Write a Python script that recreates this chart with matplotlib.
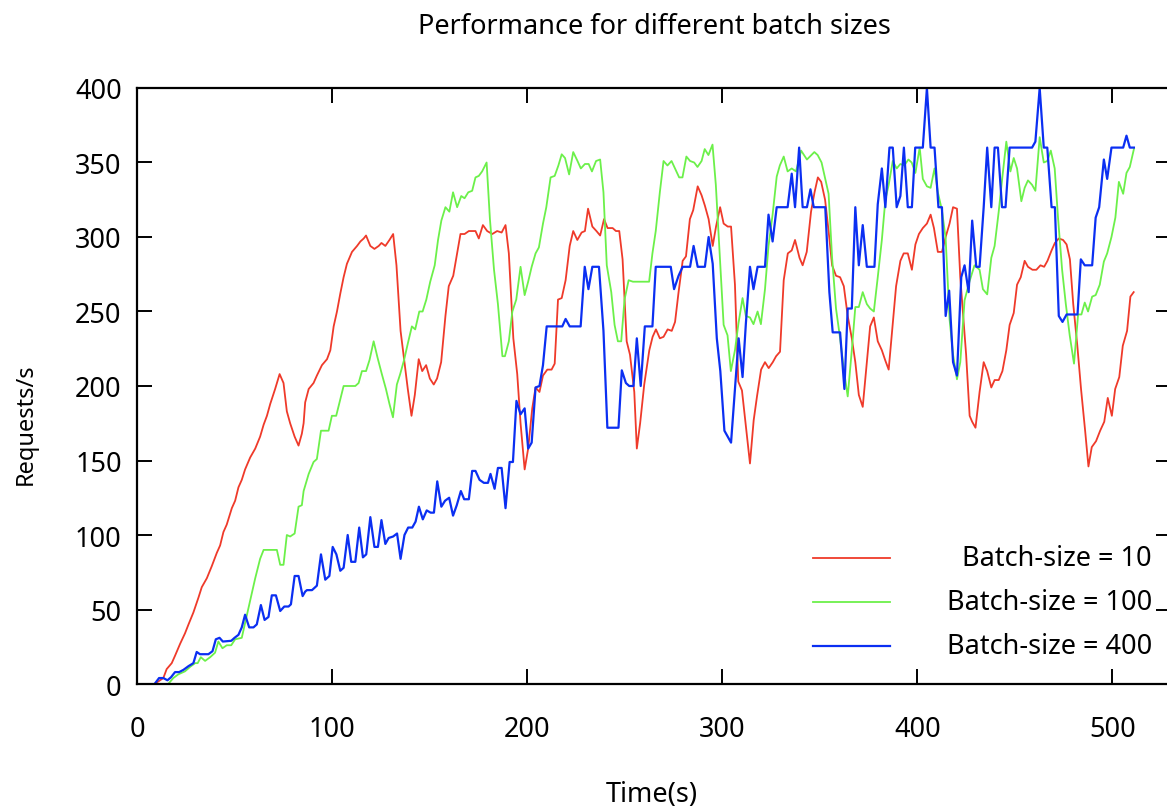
"""
request rate over time for three batch sizes
"""

import matplotlib
matplotlib.use("Agg")
import matplotlib.pyplot as plt

# sample times (s) and measured requests/s per batch size
t_bs10 = [9, 13.5, 15.2, 17.8, 19.5, 22.1, 24.6, 26.4, 28.9, 31.5, 33.2, 35.8, 38.3, 40.9, 42.6,
          44.3, 46, 48.6, 50.3, 52, 53.7, 55.4, 58, 60.6, 63.1, 64.9, 66.6, 68.3, 70.8, 73.1,
          75.1, 76.8, 78.5, 80.8, 82.8, 84.5, 85.4, 86.2, 88, 90.5, 92.2, 94.8, 97.4, 99.1,
          100.8, 102.5, 104.2, 105.9, 107.6, 110.2, 112.8, 114.5, 116.2, 117.4, 119.6, 121.7,
          123.9, 125.3, 127.3, 129.4, 131.3, 133, 135.1, 137.1, 138.8, 140.7, 142.4, 144.4,
          146.2, 148.2, 150.1, 152.1, 153.8, 155.9, 158.1, 159.8, 162.1, 164.1, 165.8, 167.9,
          170.1, 171, 173.5, 175.2, 177.3, 179.5, 182.1, 184.6, 186.9, 188.9, 190.6, 192.9,
          194.9, 196.6, 198.7, 200.5, 202.6, 204.3, 206.3, 208.1, 210.3, 212.5, 214.1, 215.8,
          217.7, 219.7, 221.8, 223.6, 225.7, 227.9, 229.6, 231.2, 233.4, 235.5, 237.4, 239.4,
          241.2, 243.8, 245.5, 247.2, 248.9, 251, 252.7, 254.9, 256.2, 257.9, 260, 262.6, 264.3,
          266, 268, 269.9, 272, 274.1, 275.8, 277.6, 279.7, 281.4, 283.4, 285.1, 287.4, 289.4,
          291.1, 293, 295.1, 296.8, 298.9, 300.7, 302.8, 304.5, 306.5, 308.2, 310.1, 312.2,
          314.2, 316.1, 317.8, 319.9, 321.9, 323.8, 325.9, 327.6, 329.6, 331.5, 333.6, 335.6,
          337.3, 339.6, 341.2, 343.3, 345.5, 347.3, 349, 350.7, 352.7, 354.5, 356.3, 358.3,
          360.4, 362.3, 364.3, 366.4, 368.2, 370, 372, 374.1, 375.8, 377.7, 379.7, 381.8, 383.6,
          385.3, 387.4, 389.1, 391.3, 393, 395.1, 397.2, 399, 400.8, 402.8, 404.9, 406.8, 408.5,
          410.5, 412.6, 414.5, 416.5, 418.3, 420.3, 422, 425, 426.8, 428.1, 429.8, 431.9, 434,
          435.8, 437.9, 439.6, 441.7, 443.6, 445.6, 447.3, 449.4, 451.1, 453, 455, 456.7, 459,
          461, 463.1, 465, 466.7, 468.8, 470.5, 472.5, 474.7, 476.5, 478.2, 479.9, 482, 483.9,
          486, 487.7, 489.4, 491.6, 493.7, 495.8, 497.6, 499.7, 501.4, 503.5, 505.3, 507.5,
          509.2, 510.9]
rps_bs10 = [0, 4, 10, 14, 19, 27, 34, 40, 48, 58, 65, 71, 79, 88, 93,
            102, 107, 118, 123, 132, 137, 144, 152, 158, 166, 174, 180, 188, 198, 208,
            202, 183, 175, 166, 160, 168, 175, 189, 198, 202, 207, 214, 218, 224,
            240, 250, 262, 273, 282, 290, 294, 297, 299, 301, 294, 292,
            294, 296, 294, 298, 302, 281, 237, 216, 198, 180, 194, 218,
            210, 214, 205, 201, 205, 216, 247, 267, 274, 289, 302, 302,
            304, 304, 304, 299, 308, 304, 302, 304, 303, 308, 289, 232,
            208, 175, 144, 158, 185, 199, 196, 207, 211, 211, 215, 258,
            259, 271, 294, 304, 298, 303, 304, 319, 307, 304, 301, 312,
            306, 306, 304, 304, 285, 230, 221, 196, 158, 175, 201, 224, 233,
            238, 232, 233, 238, 237, 243, 263, 284, 287, 312, 318, 334, 328,
            321, 312, 294, 307, 320, 309, 307, 307, 268, 203, 197, 172,
            148, 177, 193, 211, 216, 212, 216, 220, 223, 271, 289, 291,
            298, 286, 281, 290, 317, 330, 340, 337, 325, 304, 281, 274,
            273, 267, 247, 232, 216, 194, 186, 216, 240, 246, 230, 224, 217,
            211, 242, 267, 284, 289, 289, 278, 295, 302, 306, 309, 315, 306,
            290, 290, 300, 309, 320, 319, 273, 221, 180, 176, 172, 196, 216,
            210, 199, 204, 204, 210, 224, 241, 249, 268, 273, 284, 280, 278,
            278, 281, 280, 284, 291, 296, 299, 298, 295, 285, 255, 227, 198,
            170, 146, 159, 163, 170, 176, 192, 180, 198, 206, 227, 237,
            260, 263]

t_bs100 = [9, 16, 18.6, 21.2, 24.6, 27.2, 29.8, 31.1, 32.7, 34.9, 37.5, 40, 41.7, 43.8, 46, 48.3,
           50.3, 53.7, 55.4, 58, 60.6, 63.1, 64.9, 67.4, 71.7, 73.4, 75.1, 76.8, 78.5, 80.8,
           82.8, 84.5, 85.4, 88, 90.5, 92.2, 94.3, 98.2, 99.9, 102.1, 105.9, 111.9, 113.6,
           115.3, 117.4, 119.2, 121.3, 123.3, 125.5, 127.6, 129.4, 131.2, 133.2, 134.9, 136.9,
           138.9, 140.9, 142.6, 144.7, 146.4, 148.3, 150.3, 152.6, 154.3, 156, 158.1, 160.1,
           162, 164.1, 166.2, 167.9, 169.8, 171.8, 173.5, 175.2, 176.9, 179.2, 180.9, 183, 185,
           187.3, 188.6, 190.6, 192.4, 194.4, 196.6, 198.7, 200.5, 202.3, 204.3, 206, 208.1,
           209.8, 212, 214.1, 216, 217.7, 219.4, 221.5, 223.6, 225.8, 227.5, 229.6, 231.5,
           233.2, 235.3, 237.4, 239.1, 240.8, 243.1, 244.8, 246.5, 248.2, 249.9, 252, 254.2,
           262.5, 264.2, 265.9, 268, 269.9, 271.9, 274, 275.8, 277.9, 279.6, 281.6, 283.5,
           285.6, 287.3, 289.4, 291, 292.9, 295, 296.7, 298.9, 300.7, 302.7, 304.4, 306.5,
           308.3, 310.4, 312.1, 314.2, 316, 318.1, 319.8, 321.9, 323.7, 325.8, 327.9, 329.5,
           331.5, 333.5, 335.6, 337.8, 340.4, 343.4, 347.2, 348.9, 350.9, 352.8, 354.5, 356.3,
           358.3, 360.4, 362.3, 364.3, 366.4, 368.2, 370, 372, 374.1, 375.8, 377.7, 379.7,
           381.8, 383.6, 385.3, 387.4, 389.4, 391.3, 393.3, 395.4, 397.1, 399, 401.2, 402.8,
           404.9, 406.8, 408.8, 410.5, 412.6, 414.5, 416.5, 418.3, 420.3, 422, 424.2, 426.8,
           429.3, 431.9, 433.6, 435.8, 437.9, 439.6, 441.7, 443.6, 445.6, 447.7, 449.4, 451.1,
           453.3, 455, 456.7, 458.8, 460.5, 462.7, 464.8, 466.6, 468.4, 470.4, 472.1, 474.2,
           476.1, 478.1, 480.3, 482.4, 484.1, 485.8, 487.5, 489.6, 491.4, 493.5, 495.6, 497.3,
           499.5, 501.5, 503.3, 505.5, 507.2, 508.9, 511]
rps_bs100 = [0, 0, 4, 6.5, 8.5, 11.5, 14, 14, 18, 15.5, 18, 21, 28.5, 24, 26, 26,
             30, 31, 41, 56, 71, 84, 90, 90, 90, 80, 80, 100, 99, 101,
             119, 120, 129.5, 141, 149, 151, 170, 170, 180, 180, 200, 200, 202,
             210, 210, 217.5, 230, 219, 208, 198, 188, 179, 201, 208, 217.5,
             229, 240, 238, 250, 250, 258, 270, 281, 298, 311, 320, 317,
             330, 320, 327.5, 326, 330, 331, 340, 341, 344, 350, 312, 278, 255,
             220, 220, 230, 250, 258, 280, 261, 270, 280, 289, 293, 309,
             320, 340, 341, 348, 355.5, 353, 342, 357, 351, 346, 349, 349,
             344, 351, 352, 330, 281, 263, 241, 230, 230, 258, 271, 270,
             270, 289, 304, 330, 351, 348, 351, 346, 340, 340, 354, 351,
             350, 347, 351, 359, 355, 362, 335, 284, 241, 234, 210, 224,
             242, 259, 247, 246, 241.5, 250, 241.5, 265, 294, 315, 340.5, 348,
             354, 344, 346, 344, 358, 352, 357, 355, 350, 339, 329, 286,
             252, 232, 211, 193, 224, 253, 253, 263, 255, 252, 250, 273,
             298, 325, 335, 351, 346, 349, 348, 352, 350, 343, 360, 339,
             334, 333, 346, 330, 318, 299, 245, 221, 204.5, 216, 257.5, 270.5,
             281, 278, 265, 261.5, 286, 294, 317, 340.5, 364, 344, 353, 346,
             324, 333, 338, 335, 331, 367, 350, 351, 358, 346, 313, 278,
             255, 234, 215, 248, 248, 256, 250, 260, 261, 268, 283.5, 289,
             300, 313, 337, 329, 343, 347, 359]

t_bs400 = [9, 11.3, 13.5, 15.6, 17.4, 19.5, 21.6, 23.8, 26.4, 28.9, 30.6, 32.3, 36.6, 38.7, 40.4,
           42.3, 44, 48.3, 50, 52, 53.7, 55.4, 57.5, 59.7, 61.4, 63.5, 65.4, 67.4, 69.1, 71.2,
           73.4, 75.5, 77.7, 78.9, 80.8, 82.8, 84.9, 86.2, 87.1, 89.7, 92.2, 94.3, 96.5, 98.6,
           100.3, 102.2, 104.2, 105.9, 108, 109.8, 111.9, 113.9, 115.8, 117.5, 119.6, 121.7,
           123.5, 125.3, 127.3, 129, 131.3, 133.3, 135.1, 137.1, 139, 141.1, 142.8, 144.5,
           146.5, 148.5, 150.5, 152.2, 153.9, 156, 157.9, 160, 162, 163.9, 166, 167.7, 170.1,
           171.8, 173.5, 175.6, 177.8, 179.9, 181.2, 183.3, 185, 186.9, 188.9, 191, 192.7,
           194.5, 196.6, 198.7, 200.5, 202.3, 204.3, 206.3, 208.1, 210, 218, 219.7, 221.8,
           227.4, 229.5, 231.4, 233.4, 236.8, 239.1, 241.1, 246.8, 248.5, 250.6, 252.3, 254.5,
           256.2, 258.2, 260.3, 264.2, 265.9, 273.6, 275.3, 277.6, 279.7, 283.5, 285.3, 287.4,
           291.1, 293, 295.1, 297.2, 299, 301.1, 304.5, 306.5, 308.4, 310.4, 312.1, 314.2, 316,
           318.1, 321.9, 323.7, 325.8, 327.9, 333.5, 335.6, 337.3, 339.4, 341.2, 343.4, 345.2,
           346.9, 352.8, 354.9, 356.6, 360.4, 362.6, 364.3, 366.4, 368.2, 370, 372, 374.1, 378,
           379.7, 381.8, 383.6, 385.7, 387.4, 389.4, 391.3, 393.1, 395.1, 397.2, 398.9, 402.8,
           404.9, 406.8, 408.8, 410.8, 412.6, 414.5, 416.3, 418.3, 420.3, 422.5, 424.2, 426.3,
           428.1, 430.2, 431.9, 434, 435.8, 437.9, 439.6, 441.3, 443.4, 445.2, 447.3, 458.8,
           460.5, 462.7, 464.8, 466.6, 468.8, 470.5, 472.5, 474.4, 476.5, 482.1, 483.8, 485.8,
           489.6, 491.4, 493.2, 495.6, 497.3, 499.5, 505.5, 507.2, 508.9, 511]
rps_bs400 = [0, 4, 4, 2.5, 4.5, 8, 8, 9.5, 12, 14, 21.5, 20, 20, 22, 30,
             31, 28.5, 29, 31, 33, 38, 46.5, 38, 38, 40, 53, 43, 45, 59.5, 59.5,
             49, 52, 52, 53.5, 72.5, 72.5, 59, 62, 63, 63, 66, 87, 70, 72.5,
             92, 87, 76, 78, 100, 82, 82, 105, 85, 87, 112, 92,
             92, 110, 94, 98, 99, 101, 84, 100, 105, 105, 109, 119,
             110.5, 116.5, 115, 115, 136, 119, 123, 125, 113, 120, 129.5, 124, 124,
             143, 143, 137, 135, 135, 141, 131, 145, 145, 118, 149, 149,
             190, 181, 185, 158, 162, 199, 200, 214, 240, 240, 245, 240,
             240, 280, 265, 280, 280, 237, 172, 172, 210.5, 202, 200, 200,
             232, 200, 240, 240, 280, 280, 265, 274, 280, 280, 294, 280,
             280, 300, 282, 232, 210, 170, 162, 198, 232, 206, 242, 280, 265,
             280, 280, 315, 297, 320, 320, 342.5, 320, 360, 320, 320, 332,
             320, 320, 263, 236, 236, 198, 252, 252, 320, 281, 308, 280, 280,
             322, 346, 320, 360, 360, 320, 327.5, 360, 320, 320, 360, 360,
             400, 360, 360, 320, 320, 247, 264, 216, 207, 273, 281, 263,
             311, 280, 280, 320, 360, 320, 360, 360, 320, 320, 360, 360,
             364, 400, 360, 360, 320, 320, 247, 243, 248, 248, 285, 281,
             281, 313, 320, 352, 339, 360, 360, 368, 360, 360]

series = [
    ("Batch-size = 10", t_bs10, rps_bs10, "#ef3a2a", 1.3),
    ("Batch-size = 100", t_bs100, rps_bs100, "#6cf04a", 1.3),
    ("Batch-size = 400", t_bs400, rps_bs400, "#0b2ff2", 1.6),
]

plt.rcParams["font.family"] = ["Noto Sans", "DejaVu Sans"]
plt.rcParams["font.size"] = 19.5

fig = plt.figure(figsize=(11.67, 8.12), dpi=100)
ax = fig.add_axes([0.1174, 0.1564, 0.886, 0.734])

for label, t, rps, color, lw in series:
    ax.plot(t, rps, color=color, linewidth=lw, label=label)

ax.set_xlim(0, 530)
ax.set_ylim(0, 400)
ax.set_xticks(range(0, 501, 100))
ax.set_yticks(range(0, 401, 50))
ax.tick_params(axis="x", direction="in", length=10.5, width=1.4, top=True, pad=22)
ax.tick_params(axis="y", direction="in", length=10.5, width=1.4, right=True, pad=11)
for spine in ax.spines.values():
    spine.set_linewidth(1.6)

ax.set_title("Performance for different batch sizes", fontsize=19.5, y=1.09, va="center")
ax.set_xlabel("Time(s)", va="center")
ax.xaxis.set_label_coords(0.498, -0.185)
ax.set_ylabel("Requests/s", fontsize=17, va="center")
ax.yaxis.set_label_coords(-0.108, 0.438)

# key in the lower right corner: sample line on the left, right-justified text
key_y = [0.2114, 0.1376, 0.0638]
for (label, _, _, color, lw), y in zip(series, key_y):
    ax.plot([0.6538, 0.7282], [y, y], color=color, linewidth=lw, transform=ax.transAxes)
    ax.text(0.9816, y, label, ha="right", va="center", transform=ax.transAxes)

fig.savefig("out.png", dpi=100)
